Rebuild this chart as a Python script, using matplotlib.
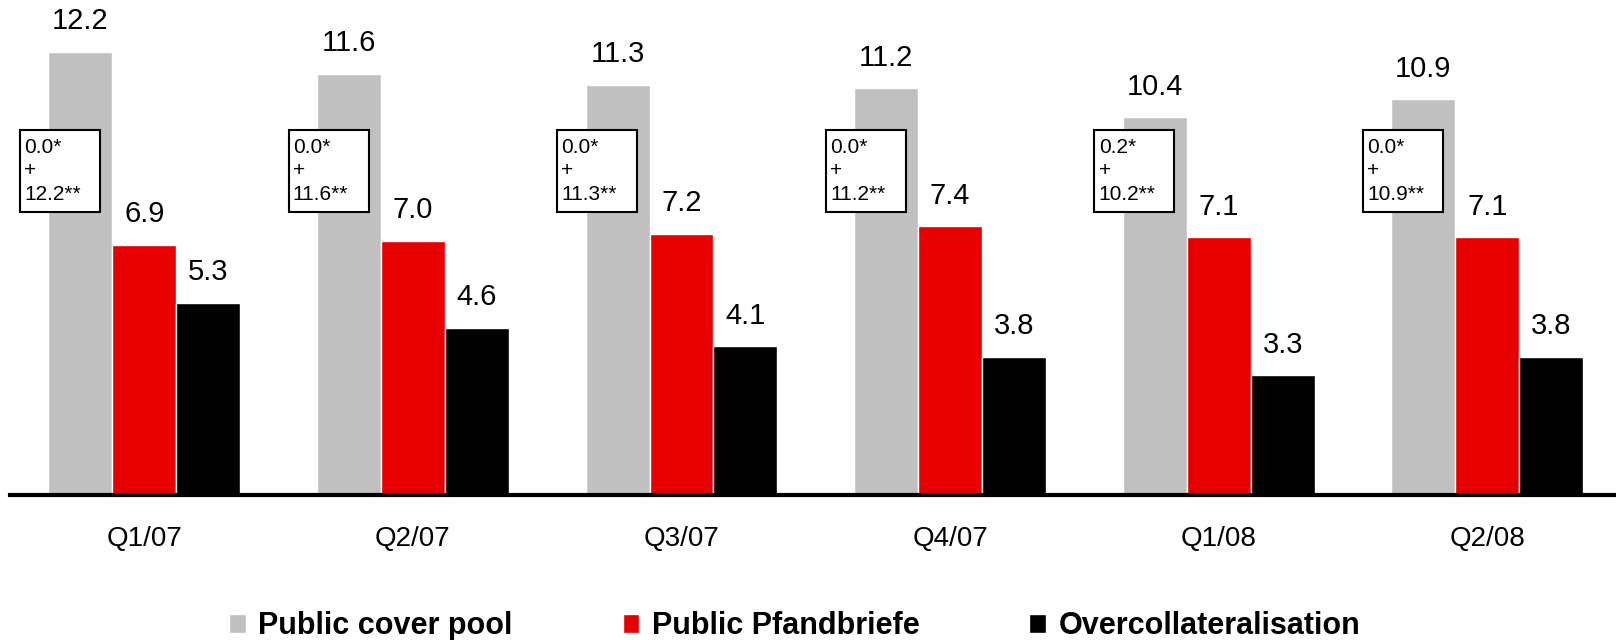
import numpy as np
import matplotlib.pyplot as plt
from matplotlib.patches import Patch, Rectangle

plt.rcParams['font.family'] = ['Liberation Sans', 'DejaVu Sans']

# === DATA ===
quarters = ['Q1/07', 'Q2/07', 'Q3/07', 'Q4/07', 'Q1/08', 'Q2/08']
cover_pool = [12.2, 11.6, 11.3, 11.2, 10.4, 10.9]
pfandbriefe = [6.9, 7.0, 7.2, 7.4, 7.1, 7.1]
overcollat = [5.3, 4.6, 4.1, 3.8, 3.3, 3.8]
part_a = ['0.0*', '0.0*', '0.0*', '0.0*', '0.2*', '0.0*']
part_b = ['12.2**', '11.6**', '11.3**', '11.2**', '10.2**', '10.9**']

series_names = ['Public cover pool', 'Public Pfandbriefe', 'Overcollateralisation']
colors = ['#C0C0C0', '#E60000', '#000000']

W, H = 1616, 640
fig = plt.figure(figsize=(W / 100, H / 100), dpi=100)
ax = fig.add_axes([10 / W, 1 - 495 / H, 1 - 10 / W, 495 / H])

x = np.arange(len(quarters))
w = 0.238
for k, (vals, c) in enumerate(zip([cover_pool, pfandbriefe, overcollat], colors)):
    pos = x + (k - 1) * w
    ax.bar(pos, vals, width=w, color=c, edgecolor='white', linewidth=1)
    for px, v in zip(pos, vals):
        ax.annotate(f'{v:.1f}', (px, v), xytext=(0, 12), textcoords='offset points',
                    ha='center', va='bottom', fontsize=21)

# boxes with split of cover pool
for i in range(len(quarters)):
    gl = x[i] - 1.5 * w
    bx0 = gl - 0.106
    ax.add_patch(Rectangle((bx0, 7.8), 0.298, 2.25, facecolor='white',
                           edgecolor='black', linewidth=1.5, zorder=3))
    ax.text(bx0 + 0.016, 8.93, f'{part_a[i]}\n+\n{part_b[i]}', fontsize=15,
            ha='left', va='center', linespacing=1.3, zorder=4)

ax.set_xlim((10 - 144.3) / 268.6, (1616 - 144.3) / 268.6)
ax.set_ylim(0, 495 / 36.3)
ax.set_xticks(x)
ax.set_xticklabels(quarters, fontsize=20)
ax.tick_params(axis='x', length=0, pad=22)
ax.set_yticks([])
for s in ['top', 'right', 'left']:
    ax.spines[s].set_visible(False)
ax.spines['bottom'].set_linewidth(3)

handles = [Patch(facecolor=c, edgecolor='white') for c in colors]
fig.legend(handles, series_names, loc='center', bbox_to_anchor=(0.4917, 1 - 626 / H),
           ncol=3, frameon=False, prop={'weight': 'bold', 'size': 22},
           handlelength=0.55, handleheight=0.6, handletextpad=0.4, columnspacing=3.6)

fig.savefig('out.png', dpi=100)
